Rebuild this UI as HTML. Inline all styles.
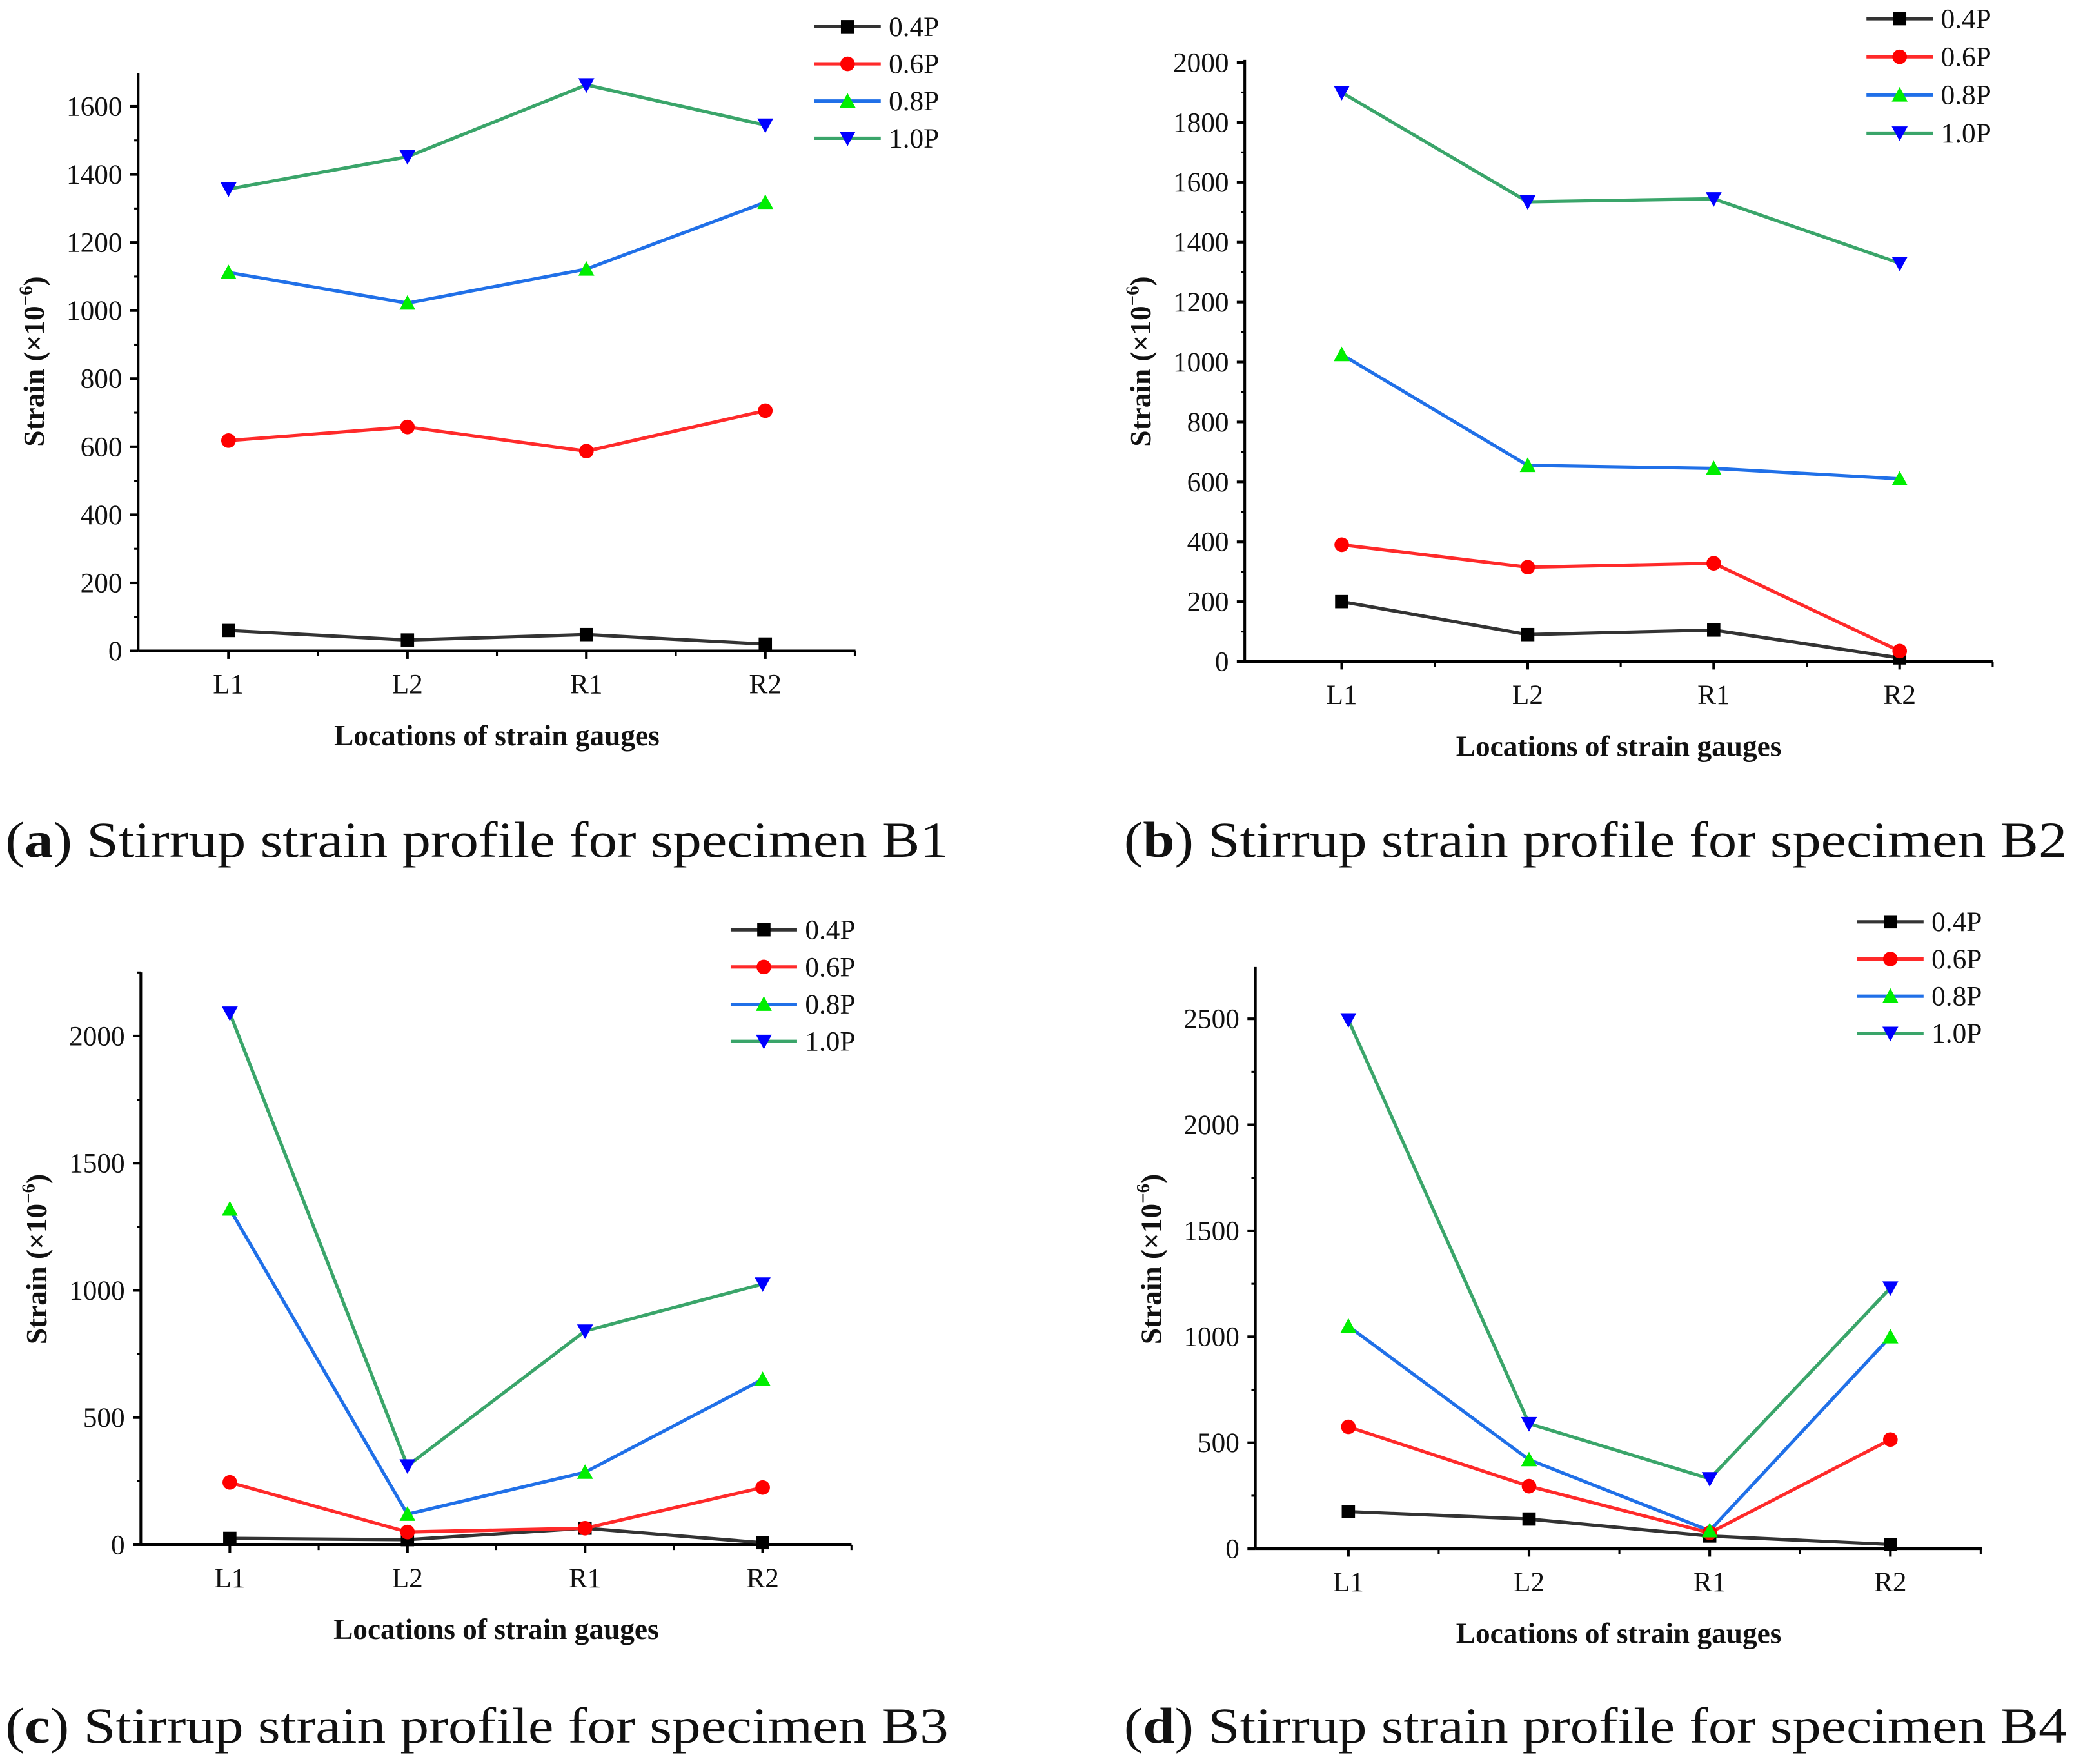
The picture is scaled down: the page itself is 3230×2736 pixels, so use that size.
<!DOCTYPE html>
<html><head><meta charset="utf-8"><style>
html,body{margin:0;padding:0;background:#fff;}
svg{display:block;}
text{font-family:"Liberation Serif",serif;fill:#111;}
</style></head><body>
<svg id="fig" width="3230" height="2736" viewBox="0 0 1568 1328" xmlns="http://www.w3.org/2000/svg"></svg>
<script>
const categories = ["L1","L2","R1","R2"];
const seriesNames = ["0.4P","0.6P","0.8P","1.0P"];
// Panel a (B1)
const a04 = [60,32,48,20];
const a06 = [618,658,587,706];
const a08 = [1112,1022,1122,1318];
const a10 = [1357,1452,1663,1545];
const aTicks = [0,200,400,600,800,1000,1200,1400,1600];
// Panel b (B2)
const b04 = [200,90,105,12];
const b06 = [390,315,328,35];
const b08 = [1025,655,645,610];
const b10 = [1900,1535,1545,1330];
const bTicks = [0,200,400,600,800,1000,1200,1400,1600,1800,2000];
// Panel c (B3)
const c04 = [25,20,65,8];
const c06 = [245,50,65,225];
const c08 = [1320,120,285,650];
const c10 = [2090,310,840,1025];
const cTicks = [0,500,1000,1500,2000];
// Panel d (B4)
const d04 = [175,140,60,20];
const d06 = [575,295,75,515];
const d08 = [1050,420,85,1000];
const d10 = [2495,590,330,1230];
const dTicks = [0,500,1000,1500,2000,2500];

const NS="http://www.w3.org/2000/svg";
const svg=document.getElementById('fig');
function mk(tag,attrs,parent){const e=document.createElementNS(NS,tag);for(const k in attrs)e.setAttribute(k,attrs[k]);(parent||svg).appendChild(e);return e;}
const lineCol=["#333333","#ff2a2a","#2070e8","#3aa56a"];
const markCol=["#000000","#ff0000","#00ee00","#0000ff"];
function marker(g,type,x,y){
  let m;
  if(type===0) m=mk('rect',{x:x-5,y:y-5,width:10,height:10,fill:markCol[0]},g);
  else if(type===1) m=mk('circle',{cx:x,cy:y,r:5.5,fill:markCol[1]},g);
  else if(type===2) m=mk('polygon',{points:`${x},${y-6} ${x-6},${y+5} ${x+6},${y+5}`,fill:markCol[2]},g);
  else m=mk('polygon',{points:`${x},${y+6} ${x-6},${y-5} ${x+6},${y-5}`,fill:markCol[3]},g);
  
  
}
function panel(p){
  const g=mk('g',{});
  
  
  const y=v=>p.y0-v*(p.y0-p.yTopTick)/p.tickMax;
  const x=i=>p.xs0+i*p.dx;
  const ax=mk('line',{x1:p.xl,y1:p.y0,x2:p.xr,y2:p.y0,stroke:'#000','stroke-width':2},g);
  
  const ay=mk('line',{x1:p.xl,y1:p.y0,x2:p.xl,y2:p.ytop,stroke:'#000','stroke-width':2},g);
  
  const step=p.ticks[1]-p.ticks[0];
  p.ticks.forEach(t=>{
    const yy=y(t);
    mk('line',{x1:p.xl-6,y1:yy,x2:p.xl,y2:yy,stroke:'#000','stroke-width':2},g);
    const tl=mk('text',{x:p.xl-12,y:yy+7,'text-anchor':'end','font-size':21},g);
    tl.textContent=t;
    
    const ym=y(t+step/2);
    if(ym>p.ytop) mk('line',{x1:p.xl-3,y1:ym,x2:p.xl,y2:ym,stroke:'#000','stroke-width':1.5},g);
  });
  categories.forEach((c,i)=>{
    mk('line',{x1:x(i),y1:p.y0,x2:x(i),y2:p.y0+6,stroke:'#000','stroke-width':2},g);
    mk('line',{x1:x(i)+p.dx/2,y1:p.y0,x2:x(i)+p.dx/2,y2:p.y0+4,stroke:'#000','stroke-width':1.5},g);
    const tl=mk('text',{x:x(i),y:p.y0+32,'text-anchor':'middle','font-size':21},g);
    tl.textContent=c;
    
  });
  const xt=mk('text',{x:(p.xl+p.xr)/2,y:p.y0+71,'text-anchor':'middle','font-size':22,'font-weight':'bold'},g);
  xt.textContent='Locations of strain gauges';
  
  const yt=mk('text',{x:0,y:0,'text-anchor':'middle','font-size':22,'font-weight':'bold',transform:`translate(${p.xl-71},${p.ytitleY}) rotate(-90)`},g);
  yt.innerHTML='Strain (×10<tspan dy="-9" font-size="14">−6</tspan><tspan dy="9">)</tspan>';
  
  p.series.forEach((s,k)=>{
    const pts=s.map((v,i)=>x(i)+','+y(v)).join(' ');
    const pl=mk('polyline',{points:pts,fill:'none',stroke:lineCol[k],'stroke-width':2.5},g);
    
    
  });
  p.series.forEach((s,k)=>s.forEach((v,i)=>marker(g,k,x(i),y(v))));
  seriesNames.forEach((n,k)=>{
    const ly=p.ly+k*p.lgap;
    const lg=mk('g',{},g);
    
    
    mk('line',{x1:p.lx,y1:ly,x2:p.lx+50,y2:ly,stroke:lineCol[k],'stroke-width':2.5},lg);
    marker(lg,k,p.lx+25,ly);
    const t=mk('text',{x:p.lx+56,y:ly+7,'font-size':21},lg);
    t.textContent=n;
  });
  const cap=mk('text',{x:p.capx,y:p.capy,'font-size':38,textLength:710,lengthAdjust:'spacingAndGlyphs'},g);
  cap.innerHTML=`(<tspan font-weight="bold">${p.id}</tspan>) Stirrup strain profile for specimen ${p.spec}`;
  
}
panel({id:'a',spec:'B1',xl:104,xr:644,y0:490,ytop:55,yTopTick:80,tickMax:1600,ticks:aTicks,xs0:172,dx:134.7,
  series:[a04,a06,a08,a10],lx:613,ly:20,lgap:28,ytitleY:272,capx:4,capy:645});
panel({id:'b',spec:'B2',xl:937,xr:1500,y0:498,ytop:45,yTopTick:47,tickMax:2000,ticks:bTicks,xs0:1010,dx:140,
  series:[b04,b06,b08,b10],lx:1405,ly:14,lgap:28.7,ytitleY:272,capx:846,capy:645});
panel({id:'c',spec:'B3',xl:106,xr:641,y0:1163,ytop:732,yTopTick:780,tickMax:2000,ticks:cTicks,xs0:173,dx:133.7,
  series:[c04,c06,c08,c10],lx:550,ly:700,lgap:28,ytitleY:948,capx:4,capy:1312});
panel({id:'d',spec:'B4',xl:945,xr:1492,y0:1166,ytop:728,yTopTick:767,tickMax:2500,ticks:dTicks,xs0:1015,dx:136,
  series:[d04,d06,d08,d10],lx:1398,ly:694,lgap:28,ytitleY:948,capx:846,capy:1312});
</script>
</body></html>
